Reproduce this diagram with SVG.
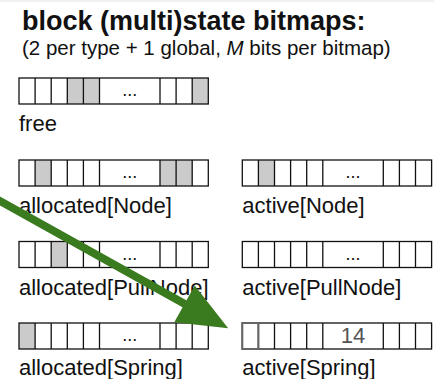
<svg xmlns="http://www.w3.org/2000/svg" xmlns:xlink="http://www.w3.org/1999/xlink" width="434" height="379" viewBox="0 0 434 379">
  <style>
    text { font-family: "Liberation Sans", Arial, sans-serif; fill: #111; }
    .title { font-size: 27px; font-weight: bold; }
    .sub { font-size: 20.5px; }
    .label { font-size: 22px; }
    .dots { font-size: 18px; text-anchor: middle; }
    .num { font-size: 22px; text-anchor: middle; fill: #555; }
    .cell { fill: none; stroke: #111; stroke-width: 1.3; }
    .set { fill: #cbcbcb; stroke: none; }
    .arrow { stroke: #3b7b1f; stroke-width: 8; fill: none; }
  </style>
  <defs>
    <!-- one bitmap: six bit cells, an elided run, three more bit cells -->
    <g id="grid">
      <rect class="cell" x="0" y="0" width="189.3" height="26"/>
      <path class="cell" d="M16.1 0V26M32.2 0V26M48.3 0V26M64.4 0V26M80.5 0V26M141 0V26M157.1 0V26M173.2 0V26"/>
    </g>
    <marker id="head" markerUnits="userSpaceOnUse" markerWidth="60" markerHeight="50" refX="4" refY="0" viewBox="0 -25 60 50" orient="auto" overflow="visible">
      <path d="M0 -21 L50 0 L0 21 Z" fill="#3b7b1f"/>
    </marker>
  </defs>

  <rect width="434" height="379" fill="#fff"/>
  <rect width="434" height="2" fill="#f1f1f1"/>

  <g id="heading">
    <text class="title" x="22" y="30">block (multi)state bitmaps:</text>
    <text class="sub" x="22" y="55">(2 per type + 1 global, <tspan font-style="italic">M</tspan> bits per bitmap)</text>
  </g>

  <g id="free" transform="translate(19,78)">
    <rect class="set" x="48.3" y="0" width="32.2" height="26"/>
    <rect class="set" x="173.2" y="0" width="16.1" height="26"/>
    <use xlink:href="#grid"/>
    <text class="dots" x="110.75" y="18">...</text>
    <text class="label" x="0" y="53">free</text>
  </g>

  <g id="allocated-node" transform="translate(19,160)">
    <rect class="set" x="16.1" y="0" width="16.1" height="26"/>
    <rect class="set" x="141" y="0" width="32.2" height="26"/>
    <use xlink:href="#grid"/>
    <text class="dots" x="110.75" y="18">...</text>
    <text class="label" x="0" y="53">allocated[Node]</text>
  </g>

  <g id="active-node" transform="translate(242.3,160)">
    <rect class="set" x="16.1" y="0" width="16.1" height="26"/>
    <use xlink:href="#grid"/>
    <text class="dots" x="110.75" y="18">...</text>
    <text class="label" x="0" y="53">active[Node]</text>
  </g>

  <g id="allocated-pullnode" transform="translate(19,241.5)">
    <rect class="set" x="32.2" y="0" width="16.1" height="26"/>
    <use xlink:href="#grid"/>
    <text class="dots" x="110.75" y="18">...</text>
    <text class="label" x="0" y="53">allocated[PullNode]</text>
  </g>

  <g id="active-pullnode" transform="translate(242.3,241.5)">
    <use xlink:href="#grid"/>
    <text class="dots" x="110.75" y="18">...</text>
    <text class="label" x="0" y="53">active[PullNode]</text>
  </g>

  <g id="allocated-spring" transform="translate(19,323)">
    <rect class="set" x="0" y="0" width="16.1" height="26"/>
    <use xlink:href="#grid"/>
    <text class="dots" x="110.75" y="18">...</text>
    <text class="label" x="0" y="51.5">allocated[Spring]</text>
  </g>

  <g id="active-spring" transform="translate(242.3,323)">
    <use xlink:href="#grid"/>
    <rect x="0" y="0" width="16.1" height="26" fill="none" stroke="#666" stroke-width="2"/>
    <text class="num" x="110.75" y="20">14</text>
    <text class="label" x="0" y="51.5">active[Spring]</text>
  </g>

  <g id="connectors">
    <path class="arrow" d="M-4 198.8 L188 305.8" marker-end="url(#head)"/>
  </g>
</svg>
